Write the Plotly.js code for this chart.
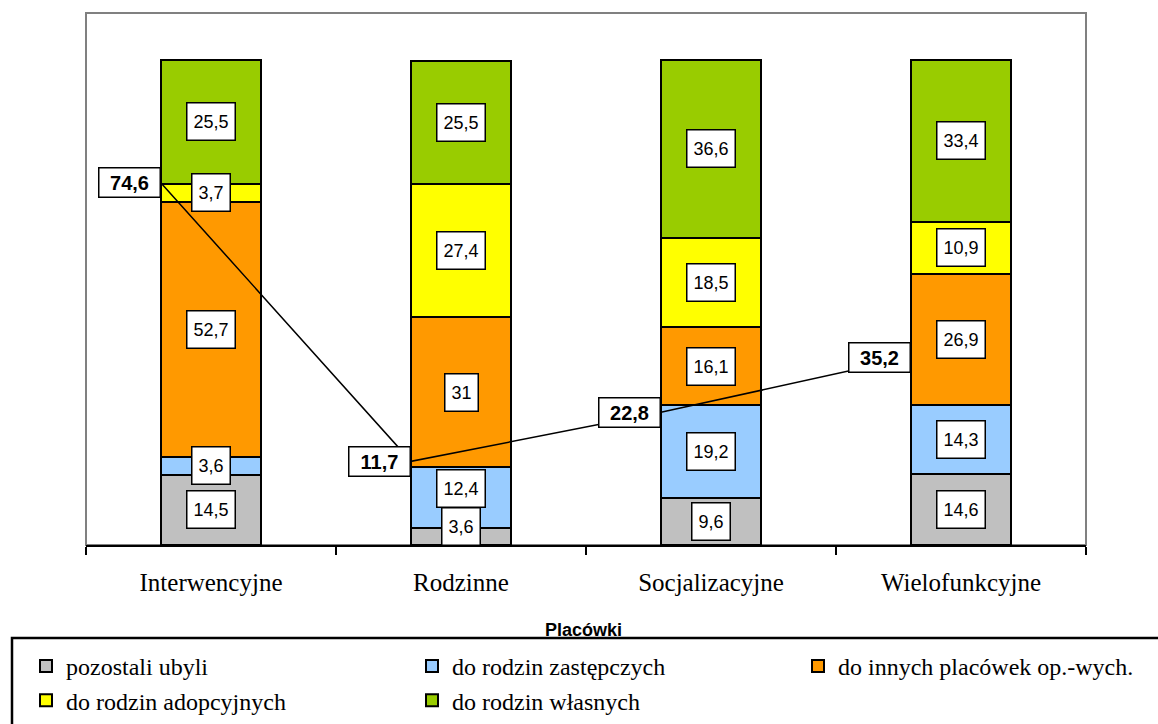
<!DOCTYPE html>
<html>
<head>
<meta charset="utf-8">
<script src="https://cdn.plot.ly/plotly-3.0.1.min.js"></script>
<style>html,body{margin:0;padding:0;background:#fff;}#chart{width:1158px;height:724px;}</style>
</head>
<body>
<div id="chart"></div>
<script>
// ---- data ----
const categories = ["Interwencyjne", "Rodzinne", "Socjalizacyjne", "Wielofunkcyjne"];
const seriesNames = ["pozostali ubyli", "do rodzin zastępczych", "do innych placówek op.-wych.", "do rodzin adopcyjnych", "do rodzin własnych"];
const pozostali   = [14.5, 3.6, 9.6, 14.6];
const zastepcze   = [3.6, 12.4, 19.2, 14.3];
const inne        = [52.7, 31, 16.1, 26.9];
const adopcyjne   = [3.7, 27.4, 18.5, 10.9];
const wlasne      = [25.5, 25.5, 36.6, 33.4];
const lineValues  = [74.6, 11.7, 22.8, 35.2];
const xTitle = "Placówki";

// ---- styles ----
const colors = ["#C0C0C0", "#99CCFF", "#FF9900", "#FFFF00", "#99CC00"];
const seriesValues = [pozostali, zastepcze, inne, adopcyjne, wlasne];
// legend placement: third series goes in a separate legend (third column)
const legendOf = ["legend", "legend", "legend2", "legend", "legend"];
const W = 1158, H = 724;
const M = {l: 86, r: 72, t: 13, b: 179, autoexpand: false};
const plotW = W - M.l - M.r, plotH = H - M.t - M.b;
const yMax = 109.7;
const y2Range = [-7.2, 113];
const bargap = 0.6;
const barW = 1 - bargap;
const pxPerUnit = plotH / yMax;
const fmt = v => String(v).replace('.', ',');
const pxX = px => (px - M.l) / plotW;
const pxY = py => (H - M.b - py) / plotH;

const traces = seriesValues.map((vals, i) => ({
  type: 'bar', x: categories, y: vals, name: seriesNames[i], legend: legendOf[i],
  marker: {color: colors[i], line: {color: '#000', width: 2}},
  hoverinfo: 'skip'
}));

traces.push({
  type: 'scatter', mode: 'lines', xaxis: 'x2', yaxis: 'y2',
  x: lineValues.map((v, i) => i - barW / 2), y: lineValues,
  line: {color: '#000', width: 1.5}, showlegend: false, hoverinfo: 'skip'
});

const annotations = [];
// bar segment labels with simple overlap avoidance
const boxH = 38, half = (boxH / 2) / pxPerUnit;
categories.forEach((cat, ci) => {
  let base = 0, prevTop = 0;
  seriesValues.forEach(vals => {
    const v = vals[ci];
    const mid = base + v / 2;
    const c = Math.max(mid, prevTop + half);
    prevTop = c + half;
    base += v;
    const t = fmt(v);
    const digits = t.replace(',', '').length, commas = t.includes(',') ? 1 : 0;
    annotations.push({
      xref: 'x', yref: 'y', x: cat, y: c, text: t, showarrow: false,
      font: {family: 'Liberation Sans, Arial, sans-serif', size: 18, color: '#000'},
      bgcolor: '#fff', bordercolor: '#000', borderwidth: 1.5, borderpad: 2,
      width: digits * 10 + commas * 5 + 8, height: 32,
      xanchor: 'center', yanchor: 'middle'
    });
  });
});
// line labels
lineValues.forEach((v, i) => {
  annotations.push({
    xref: 'x2', yref: 'y2', x: i - barW / 2, y: v, text: '<b>' + fmt(v) + '</b>',
    showarrow: false, xanchor: 'right', yanchor: 'middle',
    font: {family: 'Liberation Sans, Arial, sans-serif', size: 20, color: '#000'},
    bgcolor: '#fff', bordercolor: '#000', borderwidth: 1.5, borderpad: 2,
    width: 56, height: 24
  });
});
annotations.push({
  xref: 'paper', yref: 'paper', x: 0.497, y: pxY(630), text: '<b>' + xTitle + '</b>',
  showarrow: false, xanchor: 'center', yanchor: 'middle',
  font: {family: 'Liberation Sans, Arial, sans-serif', size: 18, color: '#000'}
});

const legendFont = {family: 'Liberation Serif, Times New Roman, serif', size: 24, color: '#000'};
const layout = {
  width: W, height: H, margin: M,
  paper_bgcolor: '#fff', plot_bgcolor: '#fff',
  barmode: 'stack', bargap: bargap,
  showlegend: true,
  legend: {
    orientation: 'h', traceorder: 'normal',
    x: pxX(26), xanchor: 'left', y: pxY(644), yanchor: 'top',
    entrywidth: 341, entrywidthmode: 'pixels', tracegroupgap: 0,
    font: legendFont, bgcolor: 'rgba(0,0,0,0)', borderwidth: 0
  },
  legend2: {
    orientation: 'h', traceorder: 'normal',
    x: pxX(798), xanchor: 'left', y: pxY(644), yanchor: 'top',
    font: legendFont, bgcolor: 'rgba(0,0,0,0)', borderwidth: 0
  },
  xaxis: {
    type: 'category', range: [-0.5, 3.5], tickson: 'boundaries',
    ticks: 'outside', ticklen: 8, tickwidth: 2, tickcolor: '#000',
    showline: true, linecolor: '#000', linewidth: 2, showgrid: false,
    ticklabelstandoff: 14,
    tickfont: {family: 'Liberation Serif, Times New Roman, serif', size: 25, color: '#000'},
    fixedrange: true
  },
  yaxis: {range: [0, yMax], showgrid: false, zeroline: false, showticklabels: false, ticks: '', showline: false},
  xaxis2: {overlaying: 'x', range: [-0.5, 3.5], visible: false},
  yaxis2: {overlaying: 'y', range: y2Range, visible: false},
  annotations: annotations,
  shapes: [
    {type: 'rect', xref: 'paper', yref: 'paper', x0: 0, x1: 1, y0: 0, y1: 1,
     line: {color: '#808080', width: 2}, layer: 'below'},
    {type: 'rect', xref: 'paper', yref: 'paper', x0: pxX(12), x1: pxX(1175), y0: pxY(638), y1: pxY(740),
     line: {color: '#000', width: 2.5}, fillcolor: 'rgba(0,0,0,0)'}
  ]
};

Plotly.newPlot('chart', traces, layout, {displayModeBar: false, staticPlot: true});
</script>
</body>
</html>
